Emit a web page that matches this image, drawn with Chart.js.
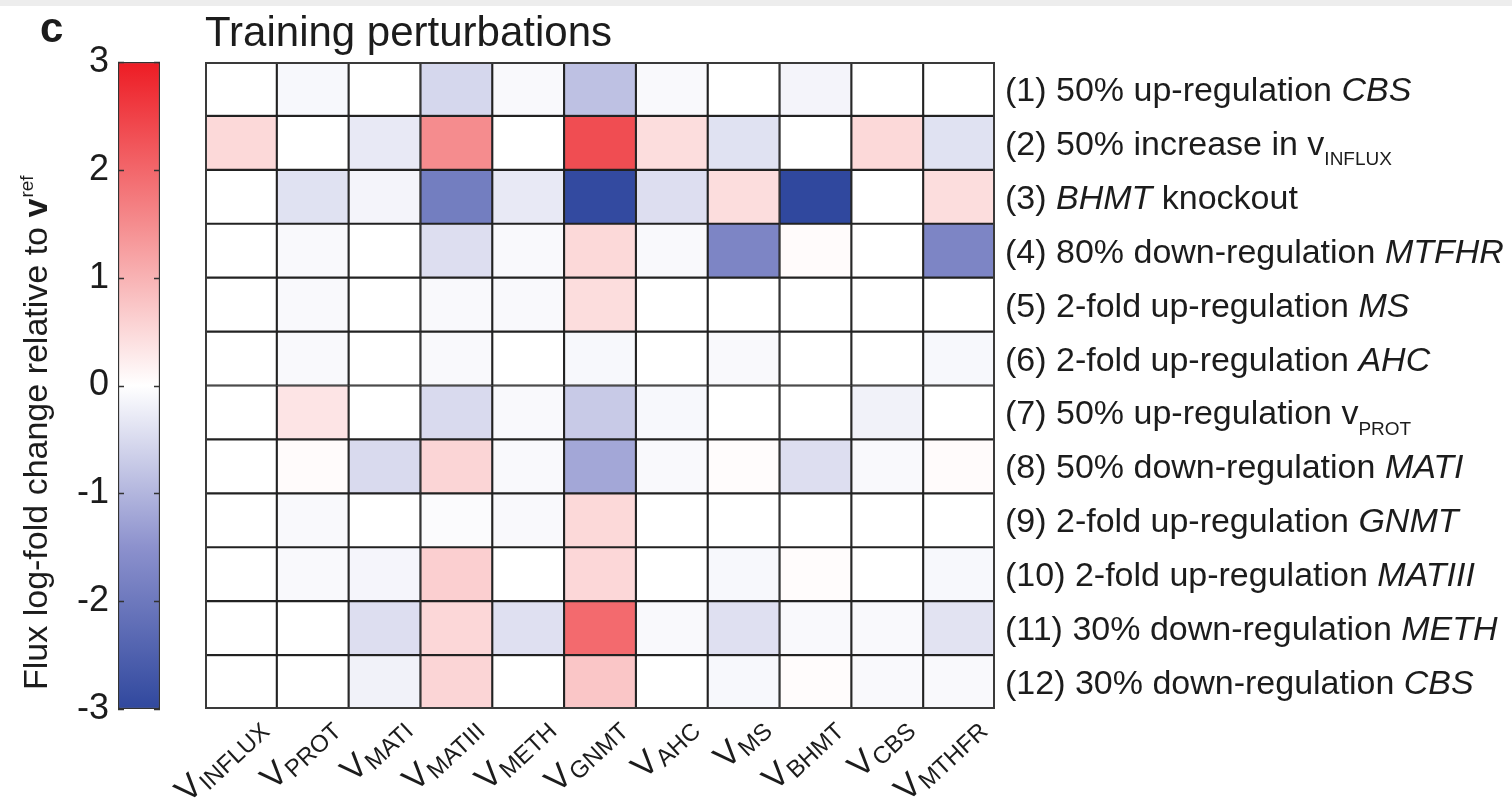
<!DOCTYPE html>
<html>
<head>
<meta charset="utf-8">
<script src="https://cdn.jsdelivr.net/npm/chart.js@4.4.1/dist/chart.umd.min.js"></script>
<style>
  html, body { margin: 0; padding: 0; background: #fff; }
  #wrap { position: relative; width: 1512px; height: 798px; overflow: hidden; background: #fff; }
  #topband { position: absolute; left: 0; top: 0; width: 1512px; height: 6px; background: #ededed; }
  #heat, #cbar { position: absolute; left: 0; top: 0; }
</style>
</head>
<body>
<div id="wrap">
  <div id="topband"></div>
  <canvas id="heat" width="1512" height="798"></canvas>
  <canvas id="cbar" width="170" height="798"></canvas>
</div>
<script>
// Flux (columns) and perturbation (rows) names
const fluxNames = ['INFLUX', 'PROT', 'MATI', 'MATIII', 'METH', 'GNMT', 'AHC', 'MS', 'BHMT', 'CBS', 'MTHFR'];

// Row labels as text runs: '' = plain, 'i' = italic, 'sub' = subscript
const perturbationLabels = [
  [['(1) 50% up-regulation ', ''], ['CBS', 'i']],
  [['(2) 50% increase in v', ''], ['INFLUX', 'sub']],
  [['(3) ', ''], ['BHMT', 'i'], [' knockout', '']],
  [['(4) 80% down-regulation ', ''], ['MTFHR', 'i']],
  [['(5) 2-fold up-regulation ', ''], ['MS', 'i']],
  [['(6) 2-fold up-regulation ', ''], ['AHC', 'i']],
  [['(7) 50% up-regulation v', ''], ['PROT', 'sub']],
  [['(8) 50% down-regulation ', ''], ['MATI', 'i']],
  [['(9) 2-fold up-regulation ', ''], ['GNMT', 'i']],
  [['(10) 2-fold up-regulation ', ''], ['MATIII', 'i']],
  [['(11) 30% down-regulation ', ''], ['METH', 'i']],
  [['(12) 30% down-regulation ', ''], ['CBS', 'i']]
];

// Flux log-fold change relative to v_ref, one row per perturbation, columns follow fluxNames
const logFold = [
  [0,     -0.10,  0,     -0.55, -0.08, -0.85, -0.08,  0,    -0.15,  0,     0    ],
  [0.50,   0,    -0.30,   1.50,  0,     2.35,  0.45, -0.40,  0,     0.50, -0.40 ],
  [0,     -0.40, -0.15,  -1.90, -0.30, -2.95, -0.45,  0.45, -3.00,  0,     0.45 ],
  [0,     -0.08,  0,     -0.45, -0.08,  0.50, -0.08, -1.75,  0.05,  0,    -1.75 ],
  [0,     -0.08,  0,     -0.08, -0.08,  0.45,  0,     0,     0,     0,     0    ],
  [0,     -0.08,  0,     -0.08,  0,    -0.10,  0,    -0.08,  0,     0,    -0.10 ],
  [0,      0.35,  0,     -0.50, -0.08, -0.72, -0.10,  0,     0,    -0.18,  0    ],
  [0,      0.05, -0.50,   0.55, -0.08, -1.20, -0.08,  0.04, -0.45, -0.08,  0.05 ],
  [0,     -0.08,  0,     -0.05, -0.08,  0.50,  0,     0,     0,     0,     0    ],
  [0,     -0.08, -0.13,   0.62,  0,     0.52,  0,    -0.10,  0.04,  0,    -0.10 ],
  [0,      0,    -0.45,   0.52, -0.42,  1.95, -0.08, -0.42, -0.08, -0.08, -0.38 ],
  [0,      0,    -0.18,   0.55,  0,     0.75,  0,    -0.10,  0.04, -0.08, -0.08 ]
];

// Colour bar range and ticks
const cbarRange = [-3, 3];
const cbarTicks = [-3, -2, -1, 0, 1, 2, 3];

const FONT = '"Liberation Sans", Arial, Helvetica, sans-serif';
const INK = '#1c1c1c';

// Diverging blue-white-red colour map
const cmapStops = [
  [-3.0, [48, 72, 158]],
  [-1.5, [140, 145, 205]],
  [0.0, [255, 255, 255]],
  [1.5, [245, 140, 142]],
  [3.0, [237, 28, 36]]
];
function colorFor(v) {
  v = Math.max(cmapStops[0][0], Math.min(cmapStops[cmapStops.length - 1][0], v));
  for (let k = 0; k < cmapStops.length - 1; k++) {
    const [a, ca] = cmapStops[k], [b, cb] = cmapStops[k + 1];
    if (v >= a && v <= b) {
      const t = (v - a) / (b - a);
      const c = ca.map((x, j) => Math.round(x + (cb[j] - x) * t));
      return `rgb(${c[0]},${c[1]},${c[2]})`;
    }
  }
  return '#fff';
}

// Draw a sequence of styled text runs starting at (x, y) on the baseline
function drawRuns(ctx, runs, x, y, size) {
  let cx = x;
  for (const [text, style] of runs) {
    let dy = 0, fs = size, fstyle = '';
    if (style === 'i') fstyle = 'italic ';
    if (style === 'sub') { fs = Math.round(size * 0.55); dy = size * 0.3; }
    ctx.font = `${fstyle}${fs}px ${FONT}`;
    ctx.fillText(text, cx, y + dy);
    cx += ctx.measureText(text).width;
  }
}

// Heat map: one floating-bar dataset per perturbation, cells span [row, row + 1]
const heatDatasets = logFold.map((row, r) => ({
  label: perturbationLabels[r].map(s => s[0]).join(''),
  data: row.map(() => [r, r + 1]),
  backgroundColor: row.map(v => colorFor(v)),
  borderColor: '#222',
  borderWidth: 1.4,
  borderSkipped: false,
  barPercentage: 1,
  categoryPercentage: 1,
  grouped: false
}));

const heatDecor = {
  id: 'heatDecor',
  afterDatasetsDraw(chart) {
    const { ctx, chartArea: a, scales: { x, y } } = chart;
    ctx.save();
    // outer frame
    ctx.strokeStyle = '#3a3a3a';
    ctx.lineWidth = 2;
    ctx.strokeRect(a.left + 1, a.top + 1, a.right - a.left - 2, a.bottom - a.top - 2);

    ctx.fillStyle = INK;
    ctx.textAlign = 'left';
    ctx.textBaseline = 'alphabetic';

    // row labels on the right
    perturbationLabels.forEach((runs, r) => {
      const cy = y.getPixelForValue(r + 0.5);
      drawRuns(ctx, runs, a.right + 10, cy + 12, 34);
    });

    // rotated column labels: V with subscript flux name
    fluxNames.forEach((name, i) => {
      const cx = x.getPixelForValue(i);
      ctx.save();
      ctx.translate(cx + 30, a.bottom + 24);
      ctx.rotate(-43 * Math.PI / 180);
      ctx.font = `24px ${FONT}`;
      const wSub = ctx.measureText(name).width;
      ctx.fillText(name, -wSub, 0);
      ctx.font = `34px ${FONT}`;
      const wV = ctx.measureText('V').width;
      ctx.fillText('V', -wSub - wV - 1, -5);
      ctx.restore();
    });

    // panel title
    ctx.font = `42px ${FONT}`;
    ctx.fillText('Training perturbations', a.left, 46);
    ctx.font = `bold 42px ${FONT}`;
    ctx.fillText('c', 40, 42);
    ctx.restore();
  }
};

new Chart(document.getElementById('heat'), {
  type: 'bar',
  data: { labels: fluxNames, datasets: heatDatasets },
  options: {
    responsive: false,
    animation: false,
    layout: { padding: { left: 205, right: 1512 - 995, top: 62, bottom: 798 - 709 } },
    plugins: { legend: { display: false }, tooltip: { enabled: false } },
    scales: {
      x: { type: 'category', display: false, offset: true },
      y: { type: 'linear', min: 0, max: logFold.length, reverse: true, display: false }
    }
  },
  plugins: [heatDecor]
});

// Colour bar
const cbarDecor = {
  id: 'cbarDecor',
  afterDatasetsDraw(chart) {
    const { ctx, chartArea: a, scales: { y } } = chart;
    ctx.save();
    // inward tick marks on both sides
    ctx.strokeStyle = '#333';
    ctx.lineWidth = 1.5;
    cbarTicks.forEach(t => {
      const py = Math.round(y.getPixelForValue(t)) + 0.5;
      ctx.beginPath();
      ctx.moveTo(a.left, py); ctx.lineTo(a.left + 6, py);
      ctx.moveTo(a.right - 6, py); ctx.lineTo(a.right, py);
      ctx.stroke();
    });
    // axis title (rotated), with bold v and superscript ref
    ctx.translate(47, 690);
    ctx.rotate(-Math.PI / 2);
    ctx.fillStyle = INK;
    ctx.textAlign = 'left';
    ctx.textBaseline = 'alphabetic';
    ctx.font = `34px ${FONT}`;
    const main = 'Flux log-fold change relative to ';
    ctx.fillText(main, 0, 0);
    let px = ctx.measureText(main).width;
    ctx.font = `bold 34px ${FONT}`;
    ctx.fillText('v', px, 0);
    px += ctx.measureText('v').width + 1;
    ctx.font = `19px ${FONT}`;
    ctx.fillText('ref', px, -14);
    ctx.restore();
  }
};

new Chart(document.getElementById('cbar'), {
  type: 'bar',
  data: {
    labels: [''],
    datasets: [{
      data: [cbarRange],
      backgroundColor(c) {
        const a = c.chart.chartArea;
        if (!a) return '#fff';
        const ys = c.chart.scales.y;
        const g = c.chart.ctx.createLinearGradient(0, ys.getPixelForValue(cbarRange[0]), 0, ys.getPixelForValue(cbarRange[1]));
        cmapStops.forEach(([v, col]) => {
          g.addColorStop((v - cbarRange[0]) / (cbarRange[1] - cbarRange[0]), `rgb(${col[0]},${col[1]},${col[2]})`);
        });
        return g;
      },
      borderColor: '#333',
      borderWidth: 1.5,
      borderSkipped: false,
      barPercentage: 1,
      categoryPercentage: 1
    }]
  },
  options: {
    responsive: false,
    animation: false,
    layout: { padding: { left: 0, right: 10, top: 62, bottom: 798 - 709 } },
    plugins: { legend: { display: false }, tooltip: { enabled: false } },
    scales: {
      x: { display: false },
      y: {
        min: cbarRange[0], max: cbarRange[1],
        afterBuildTicks(s) { s.ticks = cbarTicks.map(v => ({ value: v })); },
        ticks: { font: { family: FONT, size: 36 }, color: INK, padding: 9 },
        grid: { display: false, drawTicks: false },
        border: { display: false },
        afterFit(s) { s.width = 118; }
      }
    }
  },
  plugins: [cbarDecor]
});
</script>
</body>
</html>
